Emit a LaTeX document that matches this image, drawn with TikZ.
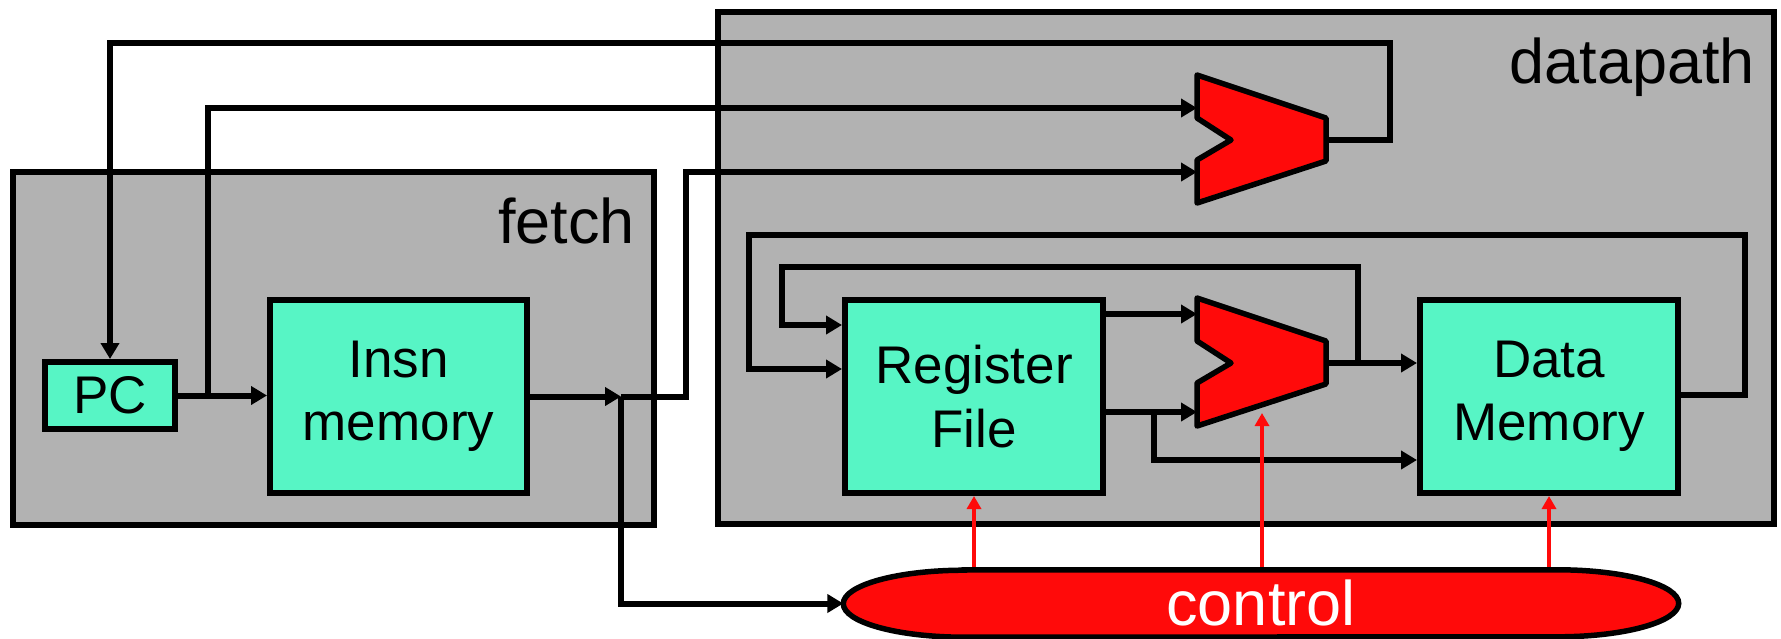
\documentclass[tikz,border=0pt]{standalone}
\usepackage{fontspec}
\setmainfont{Liberation Sans}
\usetikzlibrary{arrows.meta}
\definecolor{panelgray}{RGB}{178,178,178}
\definecolor{unitgreen}{RGB}{87,245,197}
\definecolor{ctlred}{RGB}{255,10,10}

\begin{document}
\begin{tikzpicture}[x=1pt, y=-1pt, >={Triangle[length=16pt,width=18pt]},
    wire/.style={line width=6pt},
    ctlwire/.style={line width=3.5pt, draw=ctlred, -{Triangle[length=13pt,width=14pt]}},
    panel/.style={draw, line width=6pt, fill=panelgray, inner sep=0pt},
    unit/.style={draw, line width=6pt, fill=unitgreen, inner sep=0pt, align=center,
      minimum width=258pt, minimum height=193pt, font=\fontsize{53}{63.5}\selectfont},
    mux/.style={draw, line width=5.5pt, fill=ctlred, line join=round},
    tag/.style={inner sep=0pt, font=\fontsize{63}{70}\selectfont}]
  \useasboundingbox (0,0) rectangle (1781,638);

  \node[panel, minimum width=641pt, minimum height=353pt] (fetch) at (333.5,348) {};
  \node[panel, minimum width=1056pt, minimum height=512pt] (datapath) at (1246,268) {};
  \node[tag, anchor=base east] (fetchtag) at (635,243) {fetch};
  \node[tag, anchor=base east] (datapathtag) at (1755,83) {datapath};

  \node[unit, minimum width=130pt, minimum height=67pt] (pc) at (110,395.5) {PC};
  \node[unit, minimum width=257pt] (insn) at (398.5,396.5) {Insn\\memory};
  \node[unit] (rf) at (974,396.5) {Register\\File};
  \node[unit] (dmem) [right of=rf, node distance=575pt] {Data\\Memory};

  \foreach \dy in {0,223}
    \draw[mux] (1197,75+\dy) -- (1326,118+\dy) -- (1326,161+\dy) -- (1197,203+\dy)
      -- (1197,160+\dy) -- (1231,140+\dy) -- (1197,118+\dy) -- cycle;
  \coordinate (amuxa) at (1197,108);
  \coordinate (amuxb) at (1197,172);
  \coordinate (amuxout) at (1326,140);
  \coordinate (alua) at (1197,314);
  \coordinate (alub) at (1197,412);
  \coordinate (aluout) at (1326,363);
  \coordinate (alusel) at (1262,413);

  \node[minimum width=835pt, minimum height=67pt, inner sep=0pt] (ctl) at (1261,603.5) {};

  \draw[wire,->] (pc.east) -- (pc.east -| insn.west);
  \draw[wire,->] (pc.east) ++(30,0) |- (amuxa);
  \coordinate (isplit) at (621,396.5);
  \draw[wire,->] (insn.east) -- (isplit);
  \draw[wire,->] (isplit) -- ++(65,0) |- (amuxb);
  \draw[wire,->] (isplit) |- (ctl.west);
  \draw[wire,->] (amuxout) -- ++(64,0) -- ++(0,-97) -| (pc.north);

  \draw[wire,->] (rf.east |- alua) -- (alua);
  \draw[wire,->] (rf.east |- alub) -- (alub);
  \draw[wire,->] (rf.east |- alub) ++(48,0) |- ([yshift=-63.5pt]dmem.west);
  \draw[wire,->] (aluout) -- (aluout -| dmem.west);
  \draw[wire,->] (aluout) ++(32,0) |- (782,267) |- ([yshift=71.5pt]rf.west);
  \draw[wire,->] ([yshift=1.5pt]dmem.east) -- ++(64,0) |- (749,235) |- ([yshift=27.5pt]rf.west);

  \draw[ctlwire] (rf.south |- ctl.north) -- (rf.south);
  \draw[ctlwire] (alusel |- ctl.north) -- (alusel);
  \draw[ctlwire] (dmem.south |- ctl.north) -- (dmem.south);

  \draw[line width=5.5pt, fill=ctlred] ([xshift=121pt]ctl.north west) -- ([xshift=-121pt]ctl.north east)
    arc[start angle=90, end angle=-90, x radius=121pt, y radius=33.5pt]
    -- ([xshift=121pt]ctl.south west)
    arc[start angle=270, end angle=90, x radius=121pt, y radius=33.5pt] -- cycle;
  \node[tag, text=white, anchor=base] (ctltag) at (1261,625) {control};
\end{tikzpicture}
\end{document}
